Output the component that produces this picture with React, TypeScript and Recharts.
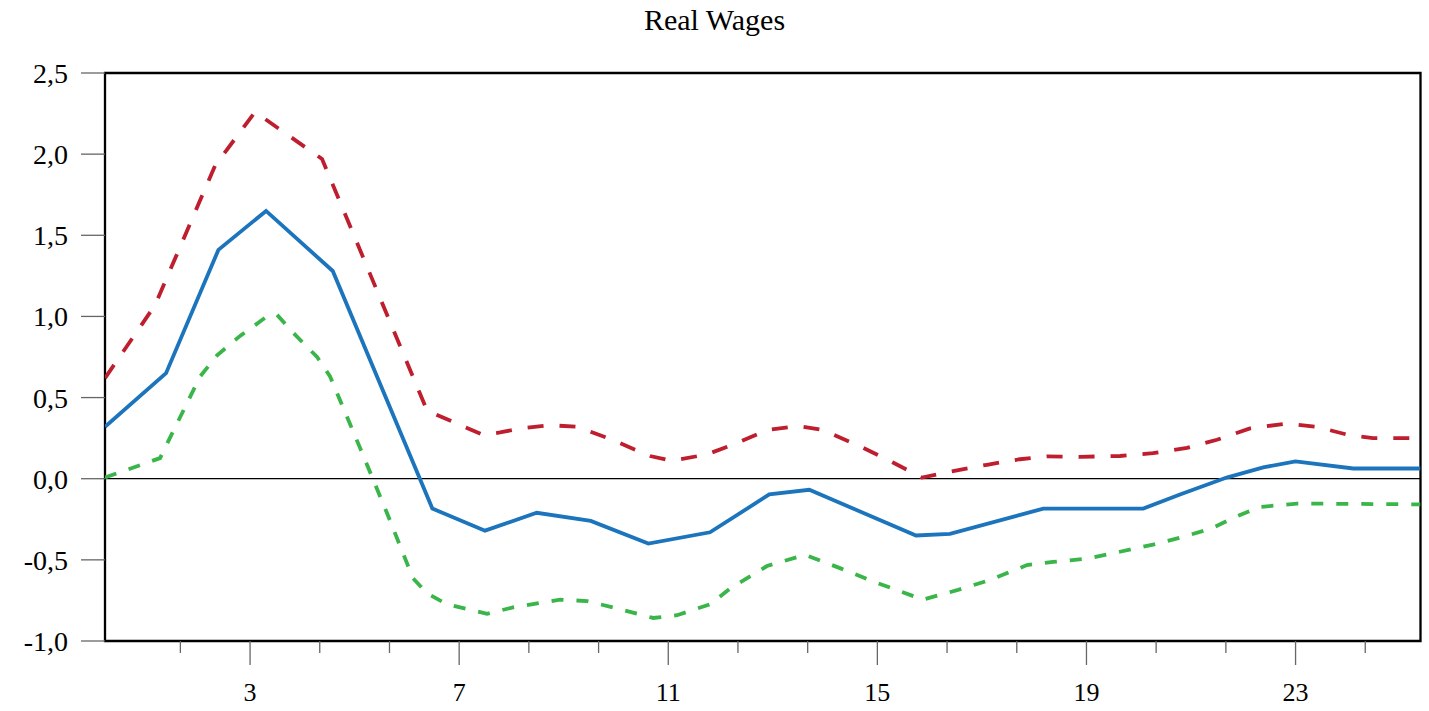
import React from 'react';
import { LineChart, Line, XAxis, YAxis, ReferenceLine, ReferenceArea } from 'recharts';

const chartTitle = 'Real Wages';

const yTicks = [-1, -0.5, 0, 0.5, 1, 1.5, 2, 2.5];
const yDomain = [-1, 2.5];
const xMajorTicks = [3, 7, 11, 15, 19, 23];
const xMinorTicks = [1.667, 4.333, 5.667, 8.333, 9.667, 12.333, 13.667, 16.333, 17.667, 20.333, 21.667, 24.333];
const xDomain = [0.225, 25.39];

// Point estimate (solid blue)
const responsePeriods = [0.225, 1.393, 2.394, 3.306, 4.582, 6.487, 7.495, 8.484, 9.517, 10.619, 11.799, 12.933, 13.698, 15.739, 16.389, 18.174, 20.087, 20.789, 21.682, 22.382, 22.998, 24.104, 25.39];
const responseValues = [0.32, 0.65, 1.41, 1.65, 1.28, -0.184, -0.32, -0.21, -0.26, -0.4, -0.33, -0.097, -0.068, -0.35, -0.34, -0.184, -0.184, -0.097, 0.007, 0.07, 0.107, 0.063, 0.063];

// Upper band (red dashed)
const upperPeriods = [0.225, 1.183, 2.331, 3.096, 4.377, 6.386, 7.457, 7.782, 8.165, 8.738, 9.255, 9.886, 10.651, 11.072, 11.741, 12.239, 12.889, 13.482, 13.96, 14.668, 15.299, 15.854, 16.332, 17.097, 17.728, 18.245, 18.876, 19.641, 20.272, 20.923, 21.497, 22.128, 22.836, 23.41, 24.002, 24.48, 25.39];
const upperValues = [0.62, 1.07, 1.93, 2.26, 1.97, 0.42, 0.27, 0.285, 0.31, 0.33, 0.32, 0.245, 0.14, 0.11, 0.15, 0.21, 0.3, 0.325, 0.3, 0.2, 0.1, 0.007, 0.04, 0.086, 0.12, 0.138, 0.135, 0.14, 0.157, 0.19, 0.24, 0.31, 0.34, 0.32, 0.27, 0.25, 0.25];

// Lower band (green dashed)
const lowerPeriods = [0.225, 1.278, 2.044, 2.369, 2.809, 3.325, 3.516, 3.822, 4.282, 4.53, 5.104, 5.621, 6.118, 6.386, 6.769, 7.533, 8.031, 8.93, 9.446, 9.943, 10.709, 11.168, 11.799, 12.181, 12.889, 13.616, 14.285, 14.917, 15.873, 16.523, 17.155, 17.862, 18.36, 19.01, 19.641, 20.272, 20.789, 21.363, 21.879, 22.319, 23.027, 25.39];
const lowerValues = [0.007, 0.127, 0.63, 0.76, 0.88, 1.0, 1.01, 0.9, 0.75, 0.63, 0.19, -0.213, -0.614, -0.706, -0.774, -0.832, -0.793, -0.745, -0.754, -0.793, -0.858, -0.841, -0.774, -0.677, -0.538, -0.469, -0.551, -0.633, -0.745, -0.687, -0.624, -0.532, -0.513, -0.493, -0.45, -0.406, -0.363, -0.31, -0.232, -0.174, -0.153, -0.158];

const zip = (ps: number[], vs: number[]) => ps.map((p, i) => ({ p, v: vs[i] }));
const responseData = zip(responsePeriods, responseValues);
const upperData = zip(upperPeriods, upperValues);
const lowerData = zip(lowerPeriods, lowerValues);

const xTicks = [...xMajorTicks, ...xMinorTicks].sort((a, b) => a - b);

const FONT = '"Liberation Serif", "Times New Roman", serif';

const XTick = (props: any) => {
  const { x, y, payload } = props;
  const major = xMajorTicks.includes(payload.value);
  return (
    <g>
      <line x1={x} y1={y} x2={x} y2={y + (major ? 24 : 12)} stroke="#666" strokeWidth={1.3} />
      {major && (
        <text x={x} y={y + 60} textAnchor="middle" fontSize={26} fontFamily={FONT} fill="#000">
          {payload.value}
        </text>
      )}
    </g>
  );
};

const fmt = (v: number) => v.toFixed(1).replace('.', ',');

export default function App() {
  return (
    <div style={{ position: 'absolute', left: 0, top: 0, width: 1429, height: 711, background: '#fff' }}>
      <div
        style={{
          position: 'absolute',
          left: 0,
          top: 5,
          width: 1429,
          textAlign: 'center',
          fontFamily: FONT,
          fontSize: 30,
          lineHeight: '30px',
          color: '#000',
        }}
      >
        {chartTitle}
      </div>
      <LineChart width={1429} height={711} margin={{ top: 73, right: 8.5, left: 0, bottom: 0 }}>
        <XAxis
          type="number"
          dataKey="p"
          domain={xDomain}
          ticks={xTicks}
          interval={0}
          allowDataOverflow
          axisLine={false}
          tickLine={false}
          tickSize={0}
          tickMargin={0}
          height={70}
          tick={<XTick />}
        />
        <YAxis
          type="number"
          domain={yDomain}
          ticks={yTicks}
          interval={0}
          allowDataOverflow
          axisLine={false}
          tickLine={{ stroke: '#666', strokeWidth: 1.3 }}
          tickSize={24}
          tickMargin={13}
          width={105}
          tickFormatter={fmt}
          tick={{ fontSize: 28, fill: '#000', fontFamily: FONT }}
        />
        <ReferenceArea
          x1={xDomain[0]}
          x2={xDomain[1]}
          y1={yDomain[0]}
          y2={yDomain[1]}
          fill="none"
          stroke="#000"
          strokeWidth={2.3}
          ifOverflow="visible"
        />
        <ReferenceLine y={0} stroke="#000" strokeWidth={1.3} ifOverflow="visible" />
        <Line
          data={upperData}
          dataKey="v"
          type="linear"
          stroke="#be1e2d"
          strokeWidth={3.8}
          strokeDasharray="16 16"
          dot={false}
          activeDot={false}
          isAnimationActive={false}
        />
        <Line
          data={responseData}
          dataKey="v"
          type="linear"
          stroke="#1c75bc"
          strokeWidth={3.8}
          dot={false}
          activeDot={false}
          isAnimationActive={false}
        />
        <Line
          data={lowerData}
          dataKey="v"
          type="linear"
          stroke="#39b54a"
          strokeWidth={3.8}
          strokeDasharray="12 13"
          dot={false}
          activeDot={false}
          isAnimationActive={false}
        />
      </LineChart>
    </div>
  );
}
